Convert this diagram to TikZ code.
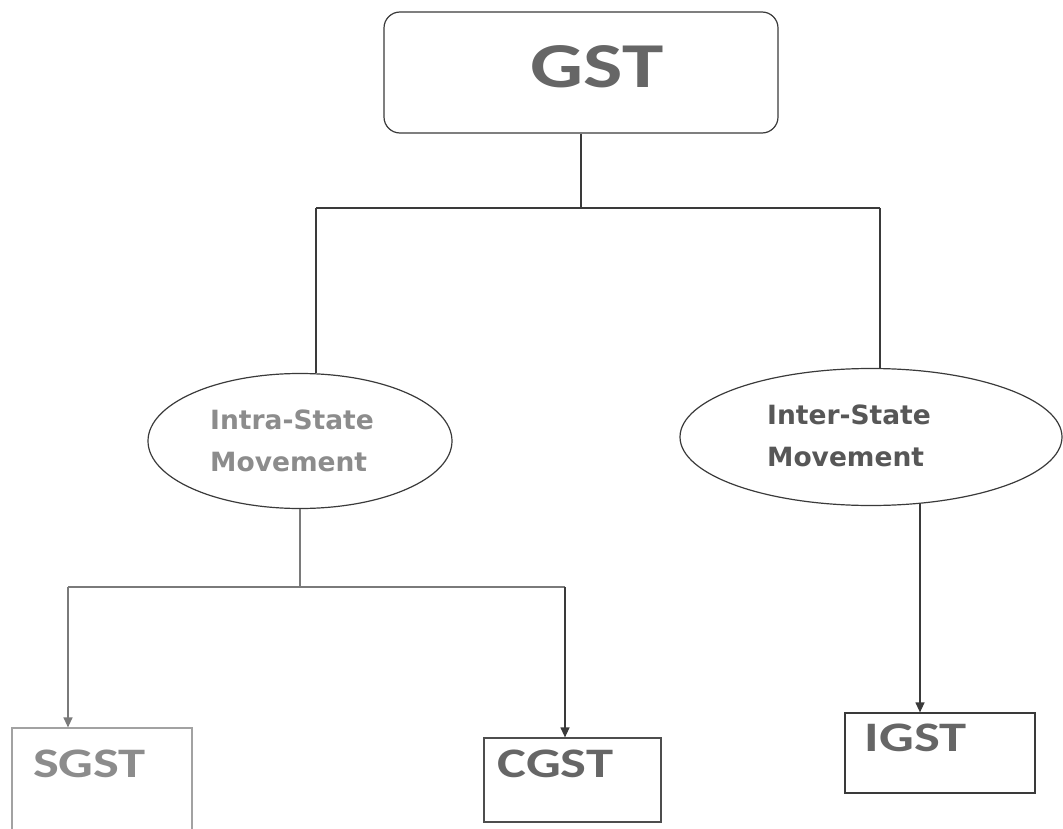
\documentclass[tikz,border=0pt]{standalone}
\usepackage{fontspec}
\setmainfont{Carlito}
\newfontfamily\boxfont[FakeStretch=1.3]{Carlito}
\newfontfamily\ellfont{DejaVu Sans}
\usetikzlibrary{shapes.geometric,arrows.meta}
\definecolor{lineA}{HTML}{3A3A3A}
\definecolor{lineB}{HTML}{7A7A7A}
\definecolor{txtA}{HTML}{666666}
\definecolor{txtB}{HTML}{8C8C8C}
\begin{document}
\begin{tikzpicture}[x=1pt,y=-1pt,line width=1.2pt,
  conn/.style={draw=lineA},
  connl/.style={draw=lineB},
  arr/.style={-{Triangle[length=10pt,width=9pt]}},
  boxtxt/.style={font=\boxfont\bfseries\fontsize{42}{42}\selectfont, inner sep=0pt},
  elltxt/.style={font=\ellfont\bfseries\fontsize{26.5}{42}\selectfont, align=left, inner sep=0pt},
  ell/.style={draw=lineA, ellipse, inner sep=0pt}]
\useasboundingbox (0,0) rectangle (1063,829);
% top box
\node[draw=lineA, rounded corners=16pt, minimum width=394pt, minimum height=121pt, inner sep=0pt] (gst) at (581,72.5) {};
\node[font=\boxfont\bfseries\fontsize{64}{64}\selectfont, text=txtA, inner sep=0pt] (gsttxt) at (597,67) {GST};
% ellipses
\node[ell, minimum width=304pt, minimum height=135pt] (intra) at (300,441) {};
\node[elltxt, text=txtB] (intratxt) at (292,441) {Intra-State\\Movement};
\node[ell, minimum width=382pt, minimum height=137pt] (inter) at (871,437) {};
\node[elltxt, text=txtA!85!black] (intertxt) at (849,436) {Inter-State\\Movement};
% bottom boxes
\node[draw=lineB!70, minimum width=180pt, minimum height=112pt, inner sep=0pt] (sgst) at (102,784) {};
\node[boxtxt, text=txtB] (sgsttxt) at (89.5,763.5) {SGST};
\node[draw=lineA!90, minimum width=177pt, minimum height=84pt, inner sep=0pt] (cgst) at (572.5,780) {};
\node[boxtxt, text=txtA] (cgsttxt) at (555.5,764) {CGST};
\node[draw=lineA, minimum width=190pt, minimum height=80pt, inner sep=0pt] (igst) at (940,753) {};
\node[boxtxt, text=txtA] (igsttxt) at (915.5,738) {IGST};
% junction coordinates
\coordinate (jl) at (316,208);
\coordinate (jr) at (880,208);
\coordinate (la) at (68,587);
\coordinate (lb) at (565,587);
\coordinate (ir) at (920,503);
% connectors
\draw[conn] (gst.south) -- (gst.south |- jl);
\draw[conn] (jl) -- (jr);
\draw[conn] (jl) -- (jl |- intra.north);
\draw[conn] (jr) -- (jr |- inter.north);
\draw[connl] (intra.south) -- (intra.south |- la);
\draw[connl] (la) -- (lb);
\draw[connl, arr] (la) -- (la |- sgst.north);
\draw[conn, arr] (lb) -- (lb |- cgst.north);
\draw[conn, arr] (ir) -- (ir |- igst.north);
\end{tikzpicture}
\end{document}
